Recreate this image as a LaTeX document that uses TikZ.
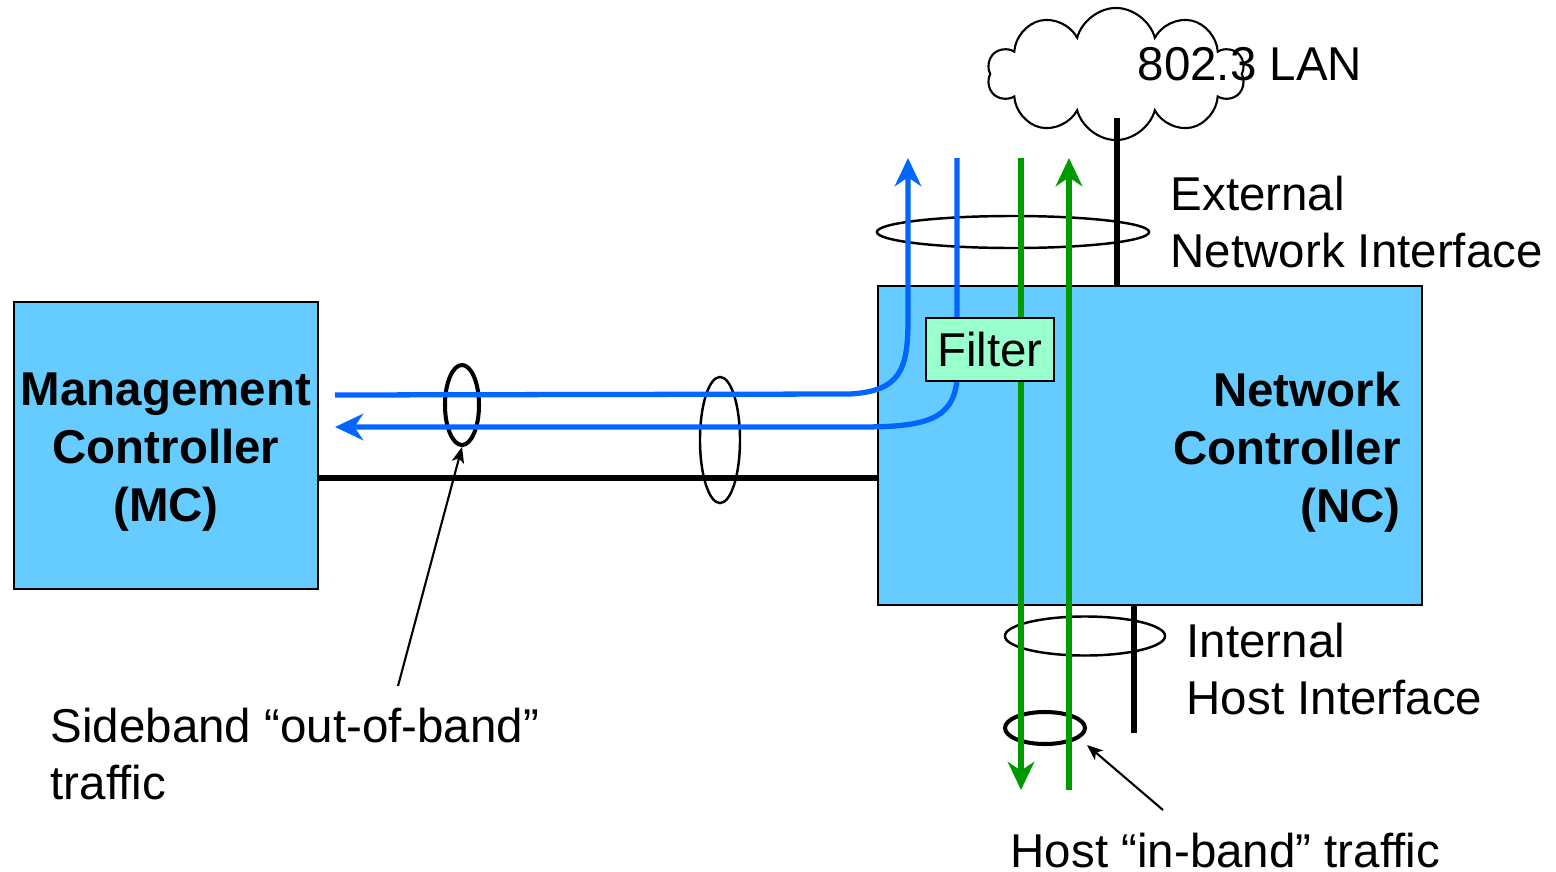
\documentclass[tikz,border=0pt]{standalone}
\usepackage{fontspec}
\setmainfont{Liberation Sans}
\usetikzlibrary{arrows.meta,positioning,calc,shapes.geometric,shapes.symbols}
\definecolor{ncblue}{HTML}{66CCFF}
\definecolor{fltgreen}{HTML}{99FFCC}
\definecolor{oobblue}{HTML}{0066FF}
\definecolor{ibgreen}{HTML}{009900}

\begin{document}
\begin{tikzpicture}[x=0.01cm, y=-0.01cm,
  font=\fontsize{13.5}{16.3}\selectfont,
  ctrlbox/.style={draw, line width=0.6pt, fill=ncblue, inner sep=0pt},
  boldtext/.style={font=\fontsize{13.5}{16.5}\selectfont\bfseries, inner sep=0pt},
  ring/.style={draw, ellipse, inner sep=0pt, line width=0.7pt},
  oob/.style={oobblue, line width=1.5pt},
  inb/.style={ibgreen, line width=1.5pt},
  wire/.style={line width=1.45pt},
  tip/.style={-{Stealth[length=8pt,width=7.5pt,inset=2.5pt]}},
  note/.style={anchor=north west, inner sep=0pt, align=left},
  pointer/.style={line width=0.6pt, -{Stealth[length=4.5pt,width=3.6pt,inset=1.2pt]}}]
\useasboundingbox (0,0) rectangle (1556,872);
% ---- controllers --------------------------------------------------
\node[ctrlbox, minimum width=3.04cm, minimum height=2.87cm] (mc) at (166,445.5) {};
\node[boldtext, align=center] (mclabel) at ([yshift=-0.07cm]mc.center)
     {Management\\Controller\\(MC)};
\node[ctrlbox, minimum width=5.44cm, minimum height=3.19cm] (nc) at (1150,445.5) {};
\node[boldtext, anchor=east, align=right]
     (nclabel) at ([xshift=-0.22cm,yshift=-0.07cm]nc.east) {Network\\Controller\\(NC)};
% ---- LAN cloud ----------------------------------------------------
\node[cloud, cloud puffs=10, aspect=2, draw, fill=white, line width=0.6pt,
      minimum width=2.57cm, minimum height=1.32cm, inner sep=0pt] (lan) at (1116,74) {};
\node[anchor=base west, inner sep=0pt] (lanlabel) at (1137,80) {802.3 LAN};
% ---- rings round the traffic --------------------------------------
\node[ring, minimum width=2.72cm, minimum height=0.32cm] (extring) at (1013,232) {};
\node[ring, minimum width=1.6cm, minimum height=0.39cm] (hostring) at (1085,636) {};
\node[ring, line width=1.15pt, minimum width=0.8cm, minimum height=0.32cm] (ibring) at (1045,728) {};
\node[ring, line width=1.15pt, minimum width=0.34cm, minimum height=0.8cm] (oobring) at (462,405) {};
\node[ring, minimum width=0.4cm, minimum height=1.26cm] (busring) at (720,440) {};
% ---- physical wires -----------------------------------------------
\coordinate (bus) at (600,478);
\draw[wire] (mc.east |- bus) -- (nc.west |- bus);
\coordinate (lanport) at (1117,118);
\draw[wire] (lanport) -- (lanport |- nc.north);
\coordinate (hostport) at (1134,733);
\draw[wire] (hostport |- nc.south) -- (hostport);
% ---- sideband traffic ---------------------------------------------
\coordinate (oobout) at (335,395);
\coordinate (oobtop) at (908,158);
\draw[oob, tip] (oobout) -- (850,394) .. controls (900,391) and (908,370) .. (908,320) -- (oobtop);
\coordinate (oobin) at (335,427);
\coordinate (fltup) at (957,158);
\draw[oob, tip] (fltup) -- (957,380) .. controls (953,420) and (925,427) .. (860,427) -- (oobin);
% ---- host traffic -------------------------------------------------
\coordinate (ibtopA) at (1021,158);
\coordinate (ibbotA) at (1021,790);
\coordinate (ibtopB) at (1069,158);
\coordinate (ibbotB) at (1069,790);
\draw[inb, tip] (ibtopA) -- (ibbotA);
\draw[inb, tip] (ibbotB) -- (ibtopB);
% ---- filter -------------------------------------------------------
\node[draw, fill=fltgreen, line width=0.6pt, minimum width=1.28cm, minimum height=0.63cm,
      inner sep=0pt] (filter) at (990,349.5) {Filter};
% ---- labels -------------------------------------------------------
\node[note] (extlabel) at (1170,175) {External\\Network Interface};
\node[note] (hostlabel) at (1186,622) {Internal\\Host Interface};
\node[note] (oobnote) at (50,707) {Sideband “out-of-band”\\traffic};
\node[note] (ibnote) at (1010,832) {Host “in-band” traffic};
\coordinate (oobtail) at (398,686);
\draw[pointer] (oobtail) -- (oobring.south);
\coordinate (ibtail) at (1163,810);
\coordinate (ibtip) at (1087,745);
\draw[pointer] (ibtail) -- (ibtip);
\end{tikzpicture}
\end{document}
